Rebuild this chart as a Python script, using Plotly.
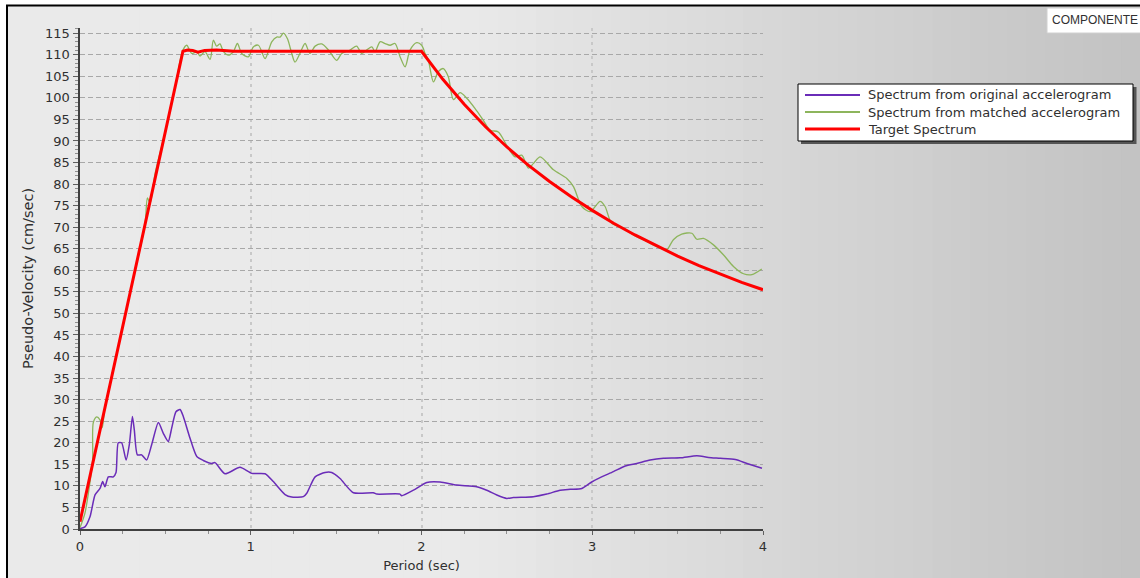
import plotly.graph_objects as go

# ---------------- data ----------------
period_original = [0, 0.029, 0.059, 0.088, 0.117, 0.133, 0.146, 0.166, 0.195, 0.211, 0.224, 0.244,
                   0.27, 0.289, 0.307, 0.318, 0.336, 0.361, 0.39, 0.42, 0.459, 0.488, 0.517, 0.537,
                   0.562, 0.586, 0.605, 0.644, 0.684, 0.722, 0.771, 0.791, 0.849, 0.937, 1.006, 1.084,
                   1.132, 1.201, 1.24, 1.308, 1.328, 1.377, 1.435, 1.474, 1.523, 1.601, 1.718, 1.738,
                   1.874, 1.884, 1.953, 2.031, 2.109, 2.206, 2.323, 2.382, 2.441, 2.499, 2.538, 2.655,
                   2.734, 2.812, 2.871, 2.939, 2.997, 3.046, 3.124, 3.193, 3.261, 3.339, 3.417, 3.515,
                   3.613, 3.681, 3.75, 3.838, 3.906, 3.994]
pv_original = [0.1, 0.5, 2.9, 7.9, 9.4, 11.0, 9.8, 12.1, 12.1, 13.1, 20.0, 20.0,
               16.0, 19.6, 26.1, 23.0, 17.2, 17.2, 16.0, 19.6, 24.7, 22.2, 20.3, 23.4,
               27.2, 27.7, 26.1, 21.1, 16.8, 15.9, 15.2, 15.4, 12.8, 14.3, 12.9, 12.8,
               11.0, 8.0, 7.4, 7.5, 8.3, 12.1, 13.1, 13.1, 11.7, 8.4, 8.4, 8.1,
               8.1, 7.7, 9.0, 10.8, 10.9, 10.2, 9.8, 9.0, 7.9, 7.1, 7.3, 7.5,
               8.1, 9.0, 9.2, 9.4, 10.9, 11.9, 13.3, 14.6, 15.2, 16.0, 16.4, 16.5,
               17.0, 16.6, 16.4, 16.1, 15.2, 14.1]

period_matched = [0, 0.029, 0.059, 0.074, 0.078, 0.098, 0.117, 0.13, 0.145, 0.2, 0.3, 0.38,
                  0.395, 0.41, 0.44, 0.5, 0.56, 0.6, 0.625, 0.654, 0.684, 0.703, 0.732, 0.762,
                  0.781, 0.80, 0.82, 0.84, 0.869, 0.898, 0.922, 0.947, 0.986, 1.015, 1.045, 1.084,
                  1.123, 1.152, 1.172, 1.191, 1.215, 1.24, 1.259, 1.288, 1.318, 1.347, 1.377, 1.416,
                  1.455, 1.503, 1.533, 1.582, 1.62, 1.65, 1.679, 1.709, 1.728, 1.757, 1.787, 1.816,
                  1.845, 1.875, 1.904, 1.933, 1.972, 2.001, 2.021, 2.04, 2.07, 2.099, 2.128, 2.157,
                  2.187, 2.226, 2.265, 2.314, 2.362, 2.402, 2.45, 2.499, 2.548, 2.587, 2.626, 2.656,
                  2.695, 2.773, 2.851, 2.89, 2.939, 2.988, 3.046, 3.075, 3.114, 3.183, 3.241, 3.319,
                  3.378, 3.436, 3.475, 3.524, 3.583, 3.612, 3.651, 3.71, 3.768, 3.827, 3.886, 3.935,
                  3.993]
pv_matched = [0.3, 3.7, 11.0, 16.0, 24.7, 26.0, 25.3, 23.5, 27.9, 37.9, 56.0, 70.5,
              76.8, 75.5, 82.5, 92.2, 103.0, 110.8, 112.2, 110.3, 110.7, 109.7, 110.7, 108.9,
              113.4, 112.0, 112.5, 110.7, 109.9, 110.7, 112.6, 110.3, 109.5, 111.8, 112.2, 109.1,
              113.0, 114.1, 114.1, 115.0, 113.7, 110.3, 108.3, 110.3, 112.6, 110.3, 112.0, 112.5,
              111.1, 108.7, 110.3, 111.1, 112.0, 110.3, 111.1, 111.8, 110.7, 113.0, 112.6, 112.2,
              112.6, 109.5, 107.2, 111.1, 112.8, 112.2, 110.3, 108.7, 103.7, 106.1, 106.8, 104.9,
              99.6, 101.2, 99.9, 97.5, 94.8, 92.5, 92.1, 89.0, 86.3, 86.7, 83.7, 84.8,
              86.3, 83.3, 81.3, 79.4, 74.8, 73.6, 76.0, 74.8, 70.9, 69.8, 68.2, 66.7,
              65.5, 64.8, 67.1, 68.4, 68.6, 67.2, 67.4, 65.9, 63.6, 60.9, 59.2, 59.0,
              60.3]

period_target = [0, 0.603, 0.63, 0.66, 0.69, 0.73, 0.80, 0.87, 0.90, 2.0, 2.125, 2.25, 2.375,
                 2.5, 2.625, 2.75, 2.875, 3.0, 3.125, 3.25, 3.375, 3.5, 3.625, 3.75, 3.875, 4.0]
pv_target = [1.7, 110.8, 111.1, 111.0, 110.6, 111.0, 111.1, 110.9, 110.8, 110.8, 104.3, 98.5, 93.3,
             88.6, 84.4, 80.6, 77.1, 73.9, 70.9, 68.2, 65.7, 63.3, 61.1, 59.1, 57.2, 55.5]

series_names = ["Spectrum from original accelerogram",
                "Spectrum from matched accelerogram",
                "Target Spectrum"]
series_colors = ["#6a2cb8", "#8db55c", "#ff0000"]
series_widths = [1.5, 1.3, 3]
x_ticks = [0, 1, 2, 3, 4]
y_ticks = list(range(0, 116, 5))

# ---------------- layout geometry helpers (pixels -> paper) ----------------
W, H = 1140, 578
L, R, T, B = 80, 377, 28, 49
PW, PH = W - L - R, H - T - B


def xp(px):
    return (px - L) / PW


def yp(py):
    return (H - B - py) / PH


fig = go.Figure()
fig.add_trace(go.Scatter(x=period_original, y=pv_original, name=series_names[0], mode="lines",
                         line=dict(color=series_colors[0], width=series_widths[0],
                                   shape="spline", smoothing=0.6)))
fig.add_trace(go.Scatter(x=period_matched, y=pv_matched, name=series_names[1], mode="lines",
                         line=dict(color=series_colors[1], width=series_widths[1],
                                   shape="spline", smoothing=0.8)))
fig.add_trace(go.Scatter(x=period_target, y=pv_target, name=series_names[2], mode="lines",
                         line=dict(color=series_colors[2], width=series_widths[2])))

shapes = []
# background horizontal gradient (light grey to darker grey)
n = 60
x0_px = 7
for i in range(n):
    a = x0_px + (W - x0_px) * i / n
    b = x0_px + (W - x0_px) * (i + 1) / n + 1
    mid = (a + b) / 2
    g = 234 if mid < 450 else 234 - 40 * (mid - 450) / (W - 450)
    g = int(round(g))
    shapes.append(dict(type="rect", xref="paper", yref="paper", layer="below",
                       x0=xp(a), x1=xp(b), y0=yp(H), y1=yp(6),
                       fillcolor=f"rgb({g},{g},{g})", line=dict(width=0)))
# frame lines (left and top)
shapes.append(dict(type="line", xref="paper", yref="paper", x0=xp(7), x1=xp(7), y0=yp(H), y1=yp(5),
                   line=dict(color="black", width=2)))
shapes.append(dict(type="line", xref="paper", yref="paper", x0=xp(6), x1=xp(W), y0=yp(5.5), y1=yp(5.5),
                   line=dict(color="black", width=2)))
# "COMPONENTE" box
shapes.append(dict(type="rect", xref="paper", yref="paper", x0=xp(1047), x1=xp(W + 2), y0=yp(33), y1=yp(8),
                   fillcolor="white", line=dict(color="#d0d0d0", width=1)))
# legend: shadow, box, line samples
shapes.append(dict(type="rect", xref="paper", yref="paper", x0=xp(801), x1=xp(1136.5), y0=yp(144), y1=yp(87),
                   fillcolor="#555555", line=dict(width=0)))
shapes.append(dict(type="rect", xref="paper", yref="paper", x0=xp(798), x1=xp(1133), y0=yp(141), y1=yp(84),
                   fillcolor="white", line=dict(color="black", width=1)))
legend_rows_py = [95, 112, 129]
annotations = []
for name, col, wd, py in zip(series_names, series_colors, series_widths, legend_rows_py):
    shapes.append(dict(type="line", xref="paper", yref="paper", x0=xp(805), x1=xp(860), y0=yp(py), y1=yp(py),
                       line=dict(color=col, width=wd + (0.5 if wd < 2 else 0))))
    annotations.append(dict(text=name, xref="paper", yref="paper", x=xp(866), y=yp(py),
                            xanchor="left", yanchor="middle", showarrow=False,
                            font=dict(family="DejaVu Sans", size=13, color="#303030")))

annotations.append(dict(text="COMPONENTE", xref="paper", yref="paper", x=xp(1050), y=yp(20.5),
                        xanchor="left", yanchor="middle", showarrow=False,
                        font=dict(family="Liberation Sans", size=12, color="#303030")))

fig.update_layout(
    width=W, height=H,
    margin=dict(l=L, r=R, t=T, b=B, autoexpand=False),
    paper_bgcolor="white",
    plot_bgcolor="rgba(0,0,0,0)",
    shapes=shapes,
    annotations=annotations,
    showlegend=False,
    xaxis=dict(range=[0, 4], tickvals=x_ticks, ticks="outside", ticklen=4, tickwidth=1,
               tickcolor="#606060",
               showline=True, linecolor="#404040", linewidth=2, zeroline=False,
               showgrid=True, gridcolor="#c8c8c8", gridwidth=2, griddash="3px,4px",
               minor=dict(dtick=0.25, ticks="outside", ticklen=3, tickcolor="#909090", showgrid=False),
               tickfont=dict(family="DejaVu Sans", size=13, color="#303030"),
               title=dict(text="Period (sec)", standoff=8,
                          font=dict(family="DejaVu Sans", size=13, color="#303030")),
               fixedrange=True),
    yaxis=dict(range=[0, 116.2], tickvals=y_ticks, ticks="outside", ticklen=5, tickwidth=1,
               tickcolor="#606060",
               showline=True, linecolor="#404040", linewidth=2.5, zeroline=False,
               showgrid=True, gridcolor="#a8a8a8", gridwidth=1, griddash="5px,3px",
               minor=dict(dtick=1, ticks="outside", ticklen=3, tickcolor="#909090", showgrid=False),
               tickfont=dict(family="DejaVu Sans", size=13, color="#303030"),
               title=dict(text="Pseudo-Velocity (cm/sec)", standoff=8,
                          font=dict(family="DejaVu Sans", size=14.5, color="#303030")),
               fixedrange=True),
)

fig.write_html("out.html",
               config=dict(displayModeBar=False, staticPlot=True),
               post_script="document.body.style.margin='0';document.body.style.overflow='hidden';")
